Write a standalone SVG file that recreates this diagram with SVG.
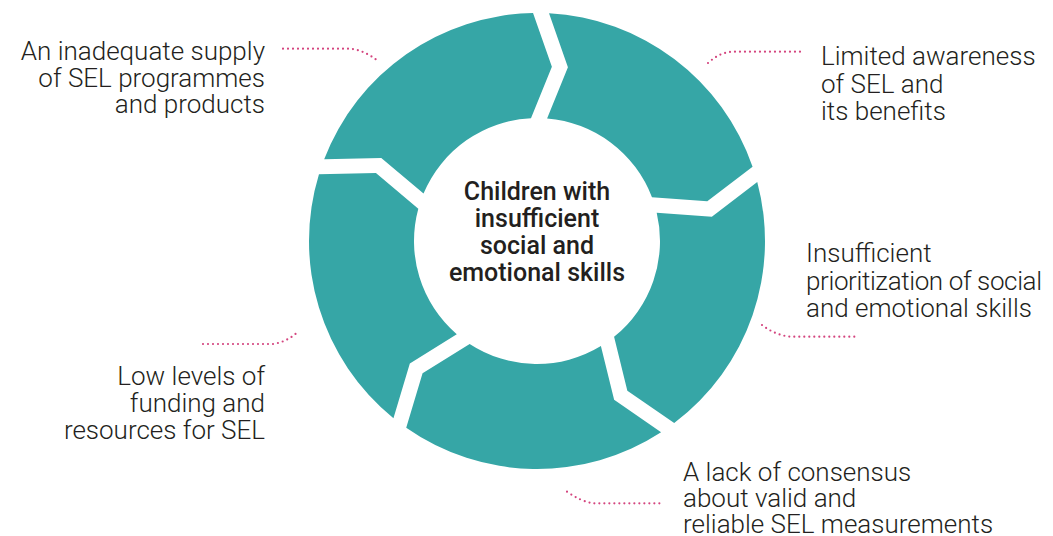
<svg xmlns="http://www.w3.org/2000/svg" xmlns:xlink="http://www.w3.org/1999/xlink" width="1053" height="536" viewBox="0 0 1053 536">
  <style>
    .seg { fill: #36a6a6; }
    .lbl { font-family: Roboto, "Liberation Sans", Arial, sans-serif; font-weight: 300; font-size: 26px; fill: #231f20; }
    .ctr { font-family: Roboto, "Liberation Sans", Arial, sans-serif; font-weight: 500; font-size: 25px; fill: #231f20; text-anchor: middle; }
    .end { text-anchor: end; }
    .dot { fill: none; stroke: #d4457f; stroke-width: 2.2; stroke-linecap: round; stroke-dasharray: 0 5; }
  </style>
  <defs>
    <path id="segShape" d="M 8.05 -227.86 A 228 228 0 0 1 214.25 -77.97 L 169.56 -42.64 L 114.20 -45.68 A 123 123 0 0 0 7.95 -122.74 L 27.89 -174.30 Z"/>
  </defs>
  <rect width="1053" height="536" fill="#ffffff"/>

  <g id="seg-awareness"><use xlink:href="#segShape" class="seg" transform="translate(537 241) rotate(1)"/></g>
  <g id="seg-prioritization"><use xlink:href="#segShape" class="seg" transform="translate(537 241) rotate(73)"/></g>
  <g id="seg-consensus"><use xlink:href="#segShape" class="seg" transform="translate(537 241) rotate(145)"/></g>
  <g id="seg-funding"><use xlink:href="#segShape" class="seg" transform="translate(537 241) rotate(217)"/></g>
  <g id="seg-supply"><use xlink:href="#segShape" class="seg" transform="translate(537 241) rotate(289)"/></g>

  <g id="center">
    <text class="ctr" x="537" y="200">Children with</text>
    <text class="ctr" x="537" y="227">insufficient</text>
    <text class="ctr" x="537" y="254">social and</text>
    <text class="ctr" x="537" y="281">emotional skills</text>
  </g>

  <g id="connectors">
    <path class="dot" d="M283 48.7 H350 Q364 50 378 61"/>
    <path class="dot" d="M708 63 Q720 52 733 51.7 H802"/>
    <path class="dot" d="M762 325 Q775 335 790 336.7 H857"/>
    <path class="dot" d="M567 491.7 Q580 501 593 503.3 H662"/>
    <path class="dot" d="M203 344 H273 Q287 342 298 331.7"/>
  </g>

  <g id="label-supply">
    <text class="lbl end" x="265" y="60">An inadequate supply</text>
    <text class="lbl end" x="265" y="86.5">of SEL programmes</text>
    <text class="lbl end" x="265" y="113">and products</text>
  </g>
  <g id="label-awareness">
    <text class="lbl" x="821" y="65">Limited awareness</text>
    <text class="lbl" x="821" y="92.5">of SEL and</text>
    <text class="lbl" x="821" y="120">its benefits</text>
  </g>
  <g id="label-prioritization">
    <text class="lbl" x="806" y="262">Insufficient</text>
    <text class="lbl" x="806" y="289.5" textLength="236" lengthAdjust="spacing">prioritization of social</text>
    <text class="lbl" x="806" y="317">and emotional skills</text>
  </g>
  <g id="label-consensus">
    <text class="lbl" x="683" y="481">A lack of consensus</text>
    <text class="lbl" x="683" y="507">about valid and</text>
    <text class="lbl" x="683" y="533">reliable SEL measurements</text>
  </g>
  <g id="label-funding">
    <text class="lbl end" x="265" y="385">Low levels of</text>
    <text class="lbl end" x="265" y="412">funding and</text>
    <text class="lbl end" x="265" y="439">resources for SEL</text>
  </g>
</svg>
